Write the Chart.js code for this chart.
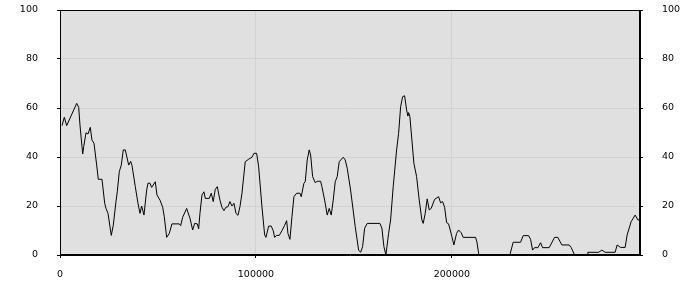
<!DOCTYPE html>
<html>
<head>
<meta charset="utf-8">
<script src="https://cdn.jsdelivr.net/npm/chart.js@4/dist/chart.umd.min.js"></script>
<style>
html,body{margin:0;padding:0;background:#fff;}
#wrap{width:700px;height:300px;position:relative;}
</style>
</head>
<body>
<div id="wrap"><canvas id="c" width="700" height="300"></canvas></div>
<script>
const xValues = [1020,2190,3420,8520,9540,10200,11220,11580,12090,13270,14290,15460,16330,17350,18720,19540,21430,22810,23470,24490,26170,27190,28570,29230,30260,31280,32300,33320,35050,36070,36730,38420,39800,40820,41680,42860,44230,44900,45920,46790,48620,49490,51020,52400,53220,54440,55770,57140,60870,61580,62600,64640,66330,67700,68720,70050,70770,71430,72450,73470,74130,76170,77190,78210,79240,80260,81630,82650,83670,84690,85710,86730,87760,88780,89800,90820,91840,92860,94540,96280,97960,98980,100360,101380,103060,104440,105100,106480,107810,108830,109540,110560,111890,113260,114640,115660,116330,117350,118370,119390,120760,122450,123120,124490,125150,126170,127190,127910,128930,130260,131280,133010,133670,135050,136380,137400,138420,139440,140460,141480,142500,144540,145560,146580,148310,150660,152390,153420,154440,155460,156790,163270,164290,165310,166330,167700,168720,170050,171790,172810,173830,174850,175870,176890,177550,177910,178570,179590,180610,181990,183320,184690,185360,186380,187400,188420,189440,191170,193220,194240,195260,196280,197300,198320,200000,201020,202390,203410,204740,205760,212090,212750,213770,229590,231270,235050,236380,239130,240150,241170,242190,243880,245250,246280,249640,252400,254080,256120,259850,260870,262600,269030,269390,274850,276530,278210,283310,284330,286070,288420,289440,291480,293520,294900,295920];
const yValues = [52.8,56.2,52.8,61.9,60.3,53,44.2,41.2,44.2,49.9,49.4,52.1,46.9,45.6,36.7,30.9,30.9,21.1,19,17,8,12.1,21.8,25.8,34,36.7,42.9,42.9,36.7,38.2,36.6,27.9,21.1,17,20,16.3,26.5,29.3,29.3,27.6,29.9,24.5,22.4,19.5,15.6,7.2,8.8,12.7,12.7,12,15.4,19,15,10.2,12.9,12.7,10.7,17,24.5,25.8,23.1,23.1,25.2,21.8,26.8,27.9,22.4,19.5,18.1,19.5,19.7,21.8,20,21.1,17,16.2,19.7,25.2,38.1,39.1,39.9,41.5,41.5,36,19.7,8.2,7.2,11.8,11.8,9.9,7.2,8,8,9.9,12.1,14,8.8,6.4,15.6,23.8,25.2,25.2,23.8,29.3,29.9,38.8,42.9,40.8,32,29.5,30.1,30.1,27.9,22.4,16.3,19,16.3,22.4,29.9,32,38.1,39.9,38.8,35.4,26.5,11.6,2,1.1,3.4,10.9,12.9,12.9,10.9,3.4,0,8.8,14.3,27.9,42.9,49.7,60.5,64.6,65,59.2,56.7,58.1,56.5,46.9,37.4,32,22.4,14.3,12.9,17,22.9,18.4,19,22.7,23.8,21.3,21.8,19.5,13.2,12.7,7.5,4.1,8.8,10.2,9.1,7.2,7.2,5.4,0,0,5.2,5.2,7.9,7.9,6.4,2,3,3,5,3,3,7.2,7.2,4.1,4.1,3.1,0,0,1.1,1.1,2,1.1,1.1,4.1,3.1,3.1,8.2,13.6,16.3,14.3,14.3];
const xTickValues = [0,100000,200000];
const yTickValues = [0,20,40,60,80,100];
const xMin = 0, xMax = 296000, yMin = 0, yMax = 100;

const points = xValues.map((x,i)=>({x:x,y:yValues[i]}));
const font = {family:'"DejaVu Sans", sans-serif', size:9.5};

const framePlugin = {
  id:'frame',
  beforeDraw(chart){
    const a = chart.chartArea, ctx = chart.ctx;
    ctx.save();
    ctx.fillStyle = '#e0e0e0';
    ctx.fillRect(a.left, a.top, a.right-a.left, a.bottom-a.top);
    ctx.restore();
  },
  afterDraw(chart){
    const a = chart.chartArea, ctx = chart.ctx;
    ctx.save();
    ctx.strokeStyle = '#000';
    ctx.lineWidth = 1;
    ctx.strokeRect(Math.round(a.left)+0.5, Math.round(a.top)+0.5, Math.round(a.right-a.left)-1, Math.round(a.bottom-a.top)-1);
    ctx.restore();
  }
};

function setTicks(vals){ return function(scale){ scale.ticks = vals.map(v=>({value:v})); }; }
function fitY(s){ s.width = 60; s.paddingTop = 10; s.paddingBottom = 6; }

new Chart(document.getElementById('c'), {
  type:'line',
  data:{datasets:[{data:points, borderColor:'#000', borderWidth:1, pointRadius:0, tension:0, fill:false}]},
  options:{
    responsive:false, animation:false, maintainAspectRatio:false,
    layout:{padding:{top:0,bottom:0,left:0,right:0}},
    plugins:{legend:{display:false}, tooltip:{enabled:false}},
    scales:{
      x:{type:'linear', min:xMin, max:xMax, position:'bottom',
         afterBuildTicks:setTicks(xTickValues),
         afterFit(s){ s.height = 45; s.paddingLeft = 0; s.paddingRight = 0; },
         grid:{color:'#d2d2d2', tickColor:'#000', tickLength:3, drawTicks:true},
         border:{display:true, color:'#000'},
         ticks:{color:'#000', font:font, padding:11, maxRotation:0, autoSkip:false, callback:v=>String(v)}},
      y:{type:'linear', min:yMin, max:yMax, position:'left',
         afterBuildTicks:setTicks(yTickValues),
         afterFit:fitY,
         grid:{color:'#d2d2d2', tickColor:'#000', tickLength:3},
         border:{display:true, color:'#000'},
         ticks:{color:'#000', font:font, padding:19, callback:v=>String(v)}},
      y2:{type:'linear', min:yMin, max:yMax, position:'right',
         afterBuildTicks:setTicks(yTickValues),
         afterFit:fitY,
         grid:{drawOnChartArea:false, tickColor:'#000', tickLength:3},
         border:{display:true, color:'#000'},
         ticks:{color:'#000', font:font, padding:19, callback:v=>String(v)}}
    }
  },
  plugins:[framePlugin]
});
</script>
</body>
</html>
